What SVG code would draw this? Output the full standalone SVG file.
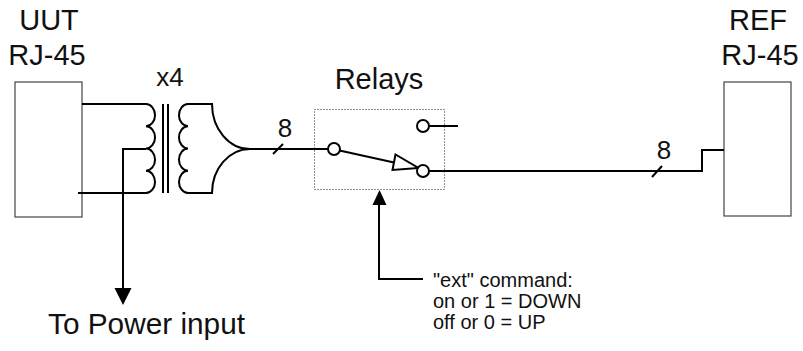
<svg xmlns="http://www.w3.org/2000/svg" width="803" height="351" viewBox="0 0 803 351">
<style>
.t{font-family:"Liberation Sans",Arial,sans-serif;fill:#111}
.big{font-size:29px}
.mid{font-size:26px}
.sm{font-size:20px}
.w{fill:none;stroke:#000;stroke-width:2}
.box{fill:#fff;stroke:#444;stroke-width:1.2}
.dot{fill:none;stroke:#222;stroke-width:1;stroke-dasharray:1,2}
.c{fill:#fff;stroke:#000;stroke-width:2}
.ah{fill:#000}
</style>
<rect width="803" height="351" fill="#fff"/>
<g id="uut">
<rect class="box" x="15" y="82" width="67" height="135"/>
<text class="t big" x="49" y="30" text-anchor="middle">UUT</text>
<text class="t big" x="47" y="65" text-anchor="middle">RJ-45</text>
</g>
<g id="transformer">
<path class="w" d="M146,104 A9,11.1 0 0 1 146,126.25 A9,11.1 0 0 1 146,148.5 A9,11.1 0 0 1 146,170.75 A9,11.1 0 0 1 146,193"/>
<line class="w" x1="163" y1="104" x2="163" y2="193"/>
<line class="w" x1="168" y1="104" x2="168" y2="193"/>
<path class="w" d="M188,104 A9,11.1 0 0 0 188,126.25 A9,11.1 0 0 0 188,148.5 A9,11.1 0 0 0 188,170.75 A9,11.1 0 0 0 188,193"/>
<text class="t mid" x="170" y="86" text-anchor="middle">x4</text>
</g>
<g id="relays">
<rect class="dot" x="314.5" y="109.5" width="130" height="80"/>
<text class="t big" x="379" y="89" text-anchor="middle" font-size="28">Relays</text>
<line class="w" x1="339.5" y1="150.5" x2="394" y2="162.5"/>
<polygon class="c" points="395.5,154.5 392.5,170 418.5,168"/>
<circle class="c" cx="334" cy="149" r="6"/>
<circle class="c" cx="423" cy="126" r="6"/>
<circle class="c" cx="423" cy="171" r="6"/>
<line class="w" x1="429" y1="126" x2="458" y2="126"/>
</g>
<g id="ref">
<rect class="box" x="724" y="82" width="67" height="134"/>
<text class="t big" x="758" y="30" text-anchor="middle">REF</text>
<text class="t big" x="760" y="65" text-anchor="middle">RJ-45</text>
</g>
<g id="connectors">
<path class="w" d="M82,104 H146"/>
<path class="w" d="M78,193 H146"/>
<path class="w" d="M146,149 H123 V289"/>
<polygon class="ah" points="114.5,288 131.5,288 123,305"/>
<path class="w" d="M188,104 H212 A38,45 0 0 0 250,149 A38,44 0 0 0 212,193 H188"/>
<path class="w" d="M250,149 H328"/>
<line class="w" x1="273" y1="154" x2="283" y2="144"/>
<text class="t mid" x="285" y="137" text-anchor="middle">8</text>
<path class="w" d="M429,171 H702 V150 H724"/>
<line class="w" x1="652" y1="177" x2="662" y2="166"/>
<text class="t mid" x="664" y="159" text-anchor="middle">8</text>
<path class="w" d="M423,279 H379 V204" stroke-width="1.5"/>
<polygon class="ah" points="372.5,205 386.5,205 379.5,190"/>
</g>
<g id="labels">
<text class="t big" x="48" y="334" textLength="197" lengthAdjust="spacingAndGlyphs">To Power input</text>
<text class="t sm" x="433" y="287">"ext" command:</text>
<text class="t sm" x="433" y="308">on or 1 = DOWN</text>
<text class="t sm" x="433" y="329">off or 0 = UP</text>
</g>
</svg>
